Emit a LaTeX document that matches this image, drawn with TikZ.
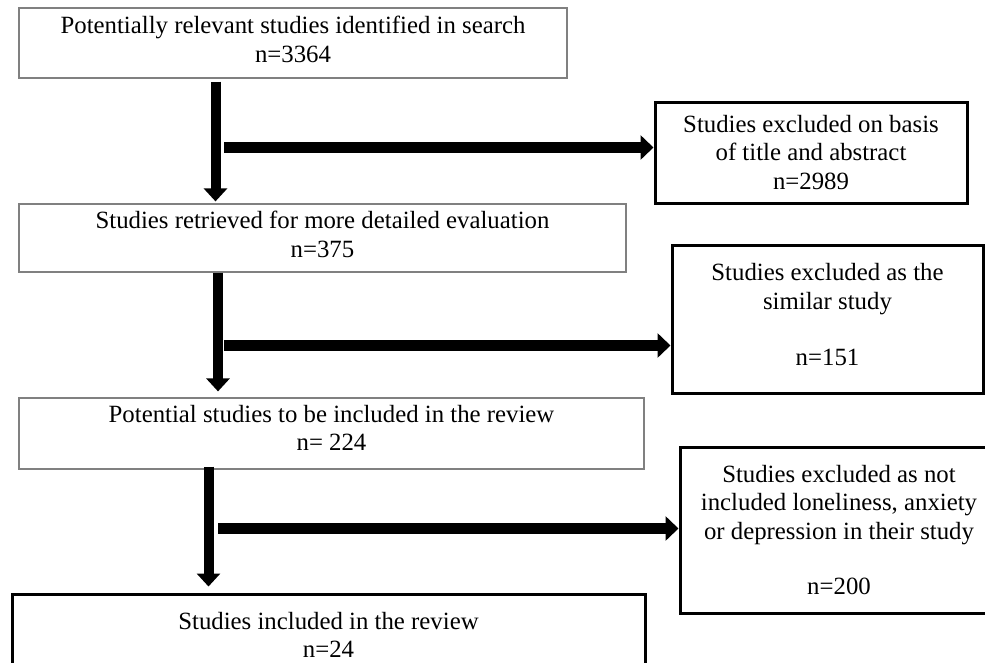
\documentclass[tikz,border=0pt]{standalone}
\usepackage{fontspec}
\setmainfont{Liberation Serif}
\usetikzlibrary{arrows.meta}
\definecolor{boxgray}{RGB}{128,128,128}
\begin{document}
\begin{tikzpicture}[x=1pt,y=-1pt,
  every node/.style={font=\fontsize{24.8}{28.5}\selectfont, align=center, inner sep=0pt},
  thinbox/.style={draw=boxgray, line width=1.2pt, rectangle},
  thickbox/.style={draw=black, line width=3pt, rectangle},
  varr/.style={line width=10pt, -{Triangle[width=23pt,length=13pt]}},
  harr/.style={line width=11.5pt, -{Triangle[width=24pt,length=13pt]}}]
\useasboundingbox (0,0) rectangle (985,662);
\begin{scope}
\clip (0,0) rectangle (985,662);
% main column
\node[thinbox, minimum width=548pt, minimum height=70pt, text depth=7pt] (b1) at (293,43)
  {Potentially relevant studies identified in search\\n=3364};
\node[thinbox, minimum width=607pt, minimum height=68pt, text depth=7pt] (b2) at (322.5,238)
  {Studies retrieved for more detailed evaluation\\n=375};
\node[thinbox, minimum width=625pt, minimum height=71pt, text depth=11pt] (b3) at (331.5,433.5)
  {Potential studies to be included in the review\\n= 224};
\node[thickbox, minimum width=633pt, minimum height=82pt] (b4) at (328.5,635)
  {Studies included in the review\\n=24};
% exclusion boxes
\node[thickbox, minimum width=312pt, minimum height=101pt] (A) at (811,152.5)
  {Studies excluded on basis\\of title and abstract\\n=2989};
\node[thickbox, minimum width=311pt, minimum height=148pt, text depth=9pt] (B) at (827.5,319)
  {Studies excluded as the\\similar study\\[28pt]n=151};
\node[thickbox, minimum width=318pt, minimum height=166pt] (C) at (839,530)
  {Studies excluded as not\\included loneliness, anxiety\\or depression in their study\\[27pt]n=200};
% connector helpers
\coordinate (v1) at (215.5,0);
\coordinate (v2) at (218,0);
\coordinate (v3) at (208.5,0);
\coordinate (h1) at (224,147.5);
\coordinate (h2) at (224,345.5);
\coordinate (h3) at (218,528.5);
% vertical arrows
\draw[varr] ([yshift=-3pt]b1.south -| v1) -- ([yshift=2pt]b2.north -| v1);
\draw[varr] (b2.south -| v2) -- ([yshift=6pt]b3.north -| v2);
\draw[varr] ([yshift=3pt]b3.south -| v3) -- ([yshift=6pt]b4.north -| v3);
% horizontal arrows
\draw[harr] (h1) -- (h1 -| A.west);
\draw[harr] (h2) -- (h2 -| B.west);
\draw[harr] (h3) -- (h3 -| C.west);
\end{scope}
\end{tikzpicture}
\end{document}
